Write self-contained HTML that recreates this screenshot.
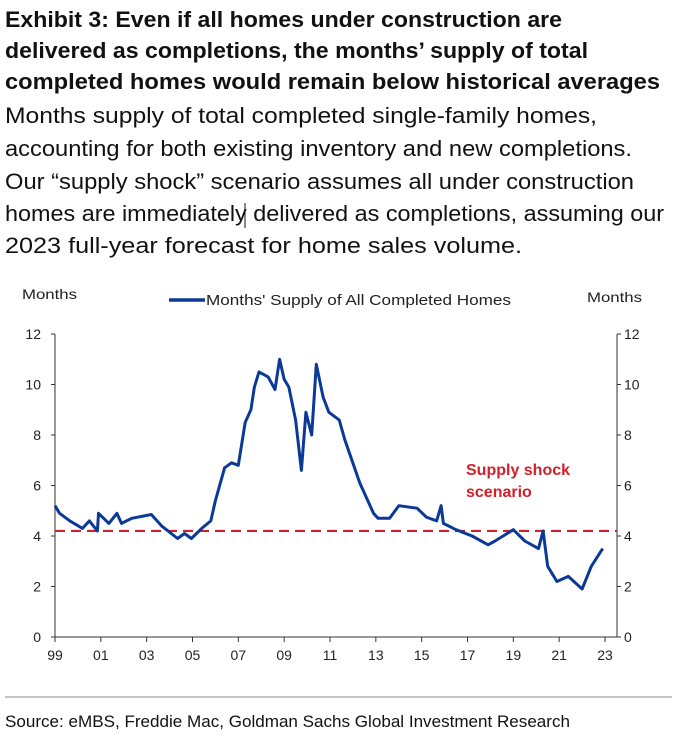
<!DOCTYPE html>
<html><head><meta charset="utf-8"><style>
html,body{margin:0;padding:0;background:#fff;}
svg{display:block;font-family:"Liberation Sans",Arial,sans-serif;}
</style></head><body>
<svg id="chart" width="683" height="739" viewBox="0 0 683 739">
<g font-weight="bold" font-size="22" fill="#111">
<text x="5" y="27" textLength="557" lengthAdjust="spacingAndGlyphs">Exhibit 3: Even if all homes under construction are</text>
<text x="5" y="58" textLength="583" lengthAdjust="spacingAndGlyphs">delivered as completions, the months’ supply of total</text>
<text x="5" y="89" textLength="655" lengthAdjust="spacingAndGlyphs">completed homes would remain below historical averages</text>
</g>
<g font-size="22" fill="#111">
<text x="5" y="123" textLength="592" lengthAdjust="spacingAndGlyphs">Months supply of total completed single-family homes,</text>
<text x="5" y="156" textLength="627" lengthAdjust="spacingAndGlyphs">accounting for both existing inventory and new completions.</text>
<text x="5" y="189" textLength="629" lengthAdjust="spacingAndGlyphs">Our “supply shock” scenario assumes all under construction</text>
<text x="5" y="221" textLength="659" lengthAdjust="spacingAndGlyphs">homes are immediately delivered as completions, assuming our</text>
<text x="5" y="253" textLength="517" lengthAdjust="spacingAndGlyphs">2023 full-year forecast for home sales volume.</text>
</g>
<line x1="245" y1="203" x2="245" y2="228" stroke="#111" stroke-width="1"/>
<text x="22" y="299" font-size="14" fill="#222" textLength="55" lengthAdjust="spacingAndGlyphs">Months</text>
<text x="587" y="302" font-size="14" fill="#222" textLength="55" lengthAdjust="spacingAndGlyphs">Months</text>
<g>
<line x1="169" y1="300" x2="205" y2="300" stroke="#0b3a96" stroke-width="3.5"/>
<text x="206" y="305" font-size="15" fill="#222" textLength="305" lengthAdjust="spacingAndGlyphs">Months' Supply of All Completed Homes</text>
</g>
<g id="axes"></g>
<g id="marks"></g>
<text x="466" y="475" font-size="16" font-weight="bold" fill="#d2202a">Supply shock</text>
<text x="466" y="497" font-size="16" font-weight="bold" fill="#d2202a">scenario</text>
<line x1="5" y1="697" x2="672" y2="697" stroke="#888" stroke-width="1"/>
<text x="5" y="727" font-size="17" fill="#111" textLength="565" lengthAdjust="spacingAndGlyphs">Source: eMBS, Freddie Mac, Goldman Sachs Global Investment Research</text>
</svg>
<script>
const years = [1999,1999.2,1999.65,2000.2,2000.5,2000.85,2000.9,2001.35,2001.7,2001.9,2002.35,2003.2,2003.65,2004.35,2004.65,2004.95,2005.4,2005.8,2006.0,2006.4,2006.7,2007.0,2007.3,2007.55,2007.7,2007.9,2008.3,2008.6,2008.8,2009.0,2009.2,2009.5,2009.75,2009.95,2010.2,2010.4,2010.7,2010.95,2011.4,2011.65,2012.3,2012.9,2013.1,2013.6,2014.0,2014.8,2015.2,2015.65,2015.85,2015.95,2016.5,2017.2,2017.9,2018.2,2019.0,2019.5,2020.1,2020.3,2020.5,2020.9,2021.4,2022.0,2022.4,2022.9];
const supply = [5.2,4.9,4.6,4.3,4.6,4.2,4.9,4.5,4.9,4.5,4.7,4.85,4.4,3.9,4.1,3.9,4.3,4.6,5.4,6.7,6.9,6.8,8.5,9.0,9.9,10.5,10.3,9.8,11.0,10.2,9.9,8.6,6.6,8.9,8.0,10.8,9.5,8.9,8.6,7.8,6.1,4.9,4.7,4.7,5.2,5.1,4.75,4.6,5.2,4.5,4.25,4.0,3.65,3.8,4.25,3.8,3.5,4.2,2.8,2.2,2.4,1.9,2.8,3.5];
const shockLevel = [4.2];
const yTicks = [0,2,4,6,8,10,12];
const xTickYears = [1999,2001,2003,2005,2007,2009,2011,2013,2015,2017,2019,2021,2023];
const xTickLabels = ["99","01","03","05","07","09","11","13","15","17","19","21","23"];

const NS="http://www.w3.org/2000/svg";
const x0=55,x1=617,yTop=334,yBot=637;
const X=y=>55+(y-1999)*(605-55)/24;
const Y=v=>yBot-(v/12)*(yBot-yTop);
function mk(tag,attrs,parent){const e=document.createElementNS(NS,tag);for(const k in attrs)e.setAttribute(k,attrs[k]);parent.appendChild(e);return e;}
const axes=document.getElementById('axes'),marks=document.getElementById('marks');
let l=mk('line',{x1:x0,y1:yTop,x2:x0,y2:yBot,stroke:'#333','stroke-width':1},axes);


l=mk('line',{x1:x1,y1:yTop,x2:x1,y2:yBot,stroke:'#333','stroke-width':1},axes);


l=mk('line',{x1:x0,y1:yBot,x2:x1,y2:yBot,stroke:'#333','stroke-width':1},axes);


yTicks.forEach(v=>{
  const yy=Y(v);
  let t=mk('line',{x1:x0-4,y1:yy,x2:x0,y2:yy,stroke:'#333'},axes);
  
  
  t=mk('line',{x1:x1,y1:yy,x2:x1+4,y2:yy,stroke:'#333'},axes);
  
  
  let tx=mk('text',{x:41,y:yy+5,'font-size':14,fill:'#222','text-anchor':'end'},axes);tx.textContent=v;
  
  
  tx=mk('text',{x:624,y:yy+5,'font-size':14,fill:'#222'},axes);tx.textContent=v;
  
  
});
xTickYears.forEach((yr,i)=>{
  const xx=X(yr);
  const t=mk('line',{x1:xx,y1:yBot,x2:xx,y2:yBot+5,stroke:'#333'},axes);
  
  
  const tx=mk('text',{x:xx,y:yBot+23,'font-size':14,fill:'#222','text-anchor':'middle'},axes);tx.textContent=xTickLabels[i];
  
  
});
const dash=mk('line',{x1:x0,y1:Y(shockLevel[0]),x2:x1,y2:Y(shockLevel[0]),stroke:'#d2202a','stroke-width':2.2,'stroke-dasharray':'10,6'},marks);


const p=mk('polyline',{points:years.map((y,i)=>X(y).toFixed(1)+','+Y(supply[i]).toFixed(1)).join(' '),fill:'none',stroke:'#0b3a96','stroke-width':3,'stroke-linejoin':'round'},marks);


</script>
</body></html>
